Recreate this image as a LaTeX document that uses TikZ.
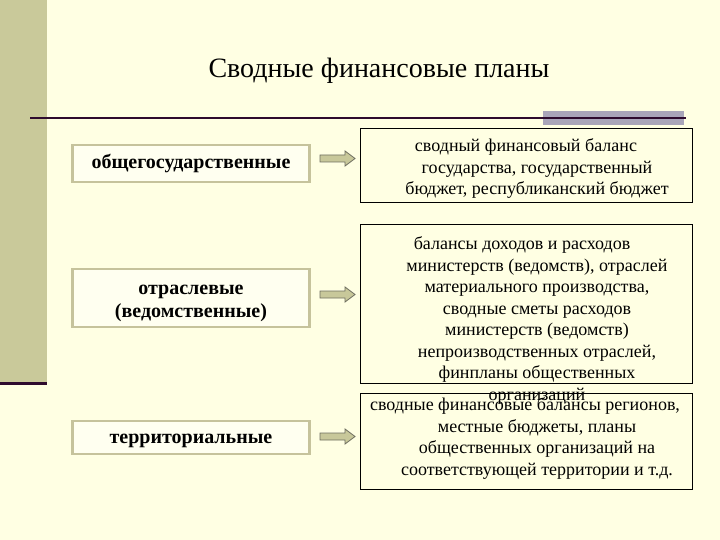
\documentclass[tikz,border=0pt]{standalone}
\usepackage{fontspec}
\setmainfont{Liberation Serif}
\definecolor{bg}{HTML}{FFFFE3}
\definecolor{strip}{HTML}{C9C99A}
\definecolor{darkln}{HTML}{2E0B2E}
\definecolor{grayrect}{HTML}{A9A5B9}
\definecolor{lborder}{HTML}{C6C39C}
\definecolor{lfill}{HTML}{FFFFF0}
\definecolor{arrfill}{HTML}{C8C89A}
\definecolor{arrdraw}{HTML}{6E6E60}
\tikzset{
  leftbox/.style={draw=lborder, line width=2.5pt, fill=lfill, minimum width=237pt, inner sep=0pt, align=center, font=\fontsize{20}{23}\selectfont\bfseries},
  rightbox/.style={draw=black, line width=1pt, minimum width=332pt, inner sep=0pt},
  righttext/.style={align=center, inner sep=0pt, font=\fontsize{18}{21.5}\selectfont},
  blockarr/.style={fill=arrfill, draw=arrdraw, line width=0.8pt, line join=miter}
}
\newcommand\blockarrow[1]{%
  \path[blockarr] (320,#1-3.5) -- (345,#1-3.5) -- (345,#1-7.5) -- (355,#1) -- (345,#1+7.5) -- (345,#1+3.5) -- (320,#1+3.5) -- cycle;}
\begin{document}
\begin{tikzpicture}[x=1pt,y=-1pt]
\fill[bg] (0,0) rectangle (720,540);
\useasboundingbox (0,0) rectangle (720,540);
\fill[strip] (0,0) rectangle (47,382);
\fill[darkln] (0,381.5) rectangle (47,384.5);
\node[anchor=base, font=\fontsize{28}{32}\selectfont] (title) at (379,78) {Сводные финансовые планы};
\fill[grayrect] (543,111) rectangle (684,125);
\draw[darkln, line width=2.5pt] (30,118) -- (686,118);
% left boxes
\node[leftbox, minimum height=37pt] (l1) at (191,163.5) {общегосударственные};
\node[leftbox, minimum height=58pt] (l2) at (191,298) {\rule{0pt}{20pt}отраслевые\\(ведомственные)};
\node[leftbox, minimum height=33pt] (l3) at (191,437.5) {\rule{0pt}{17pt}территориальные};
% right boxes
\node[rightbox, fill=bg, minimum height=74pt] (r1) at (526,166) {};
\node[righttext, anchor=north] (t1) at (537,138.5) {сводный финансовый баланс\hspace*{22pt}\\государства, государственный\\бюджет, республиканский бюджет};
\node[rightbox, fill=bg, minimum height=158pt] (r2) at (526,304) {};
\node[righttext, anchor=north] (t2) at (537,236.5) {балансы доходов и расходов\hspace*{30pt}\\министерств (ведомств), отраслей\\материального производства,\\сводные сметы расходов\\министерств (ведомств)\\непроизводственных отраслей,\\финпланы общественных\\организаций};
\node[righttext, anchor=north] (t3) at (537,397.5) {сводные финансовые балансы регионов,\hspace*{24pt}\\местные бюджеты, планы\\общественных организаций на\\соответствующей территории и т.д.};
\node[rightbox, minimum height=96pt] (r3) at (526,441) {};
% arrows
\blockarrow{158.5}
\blockarrow{294.5}
\blockarrow{436.5}
\end{tikzpicture}
\end{document}
